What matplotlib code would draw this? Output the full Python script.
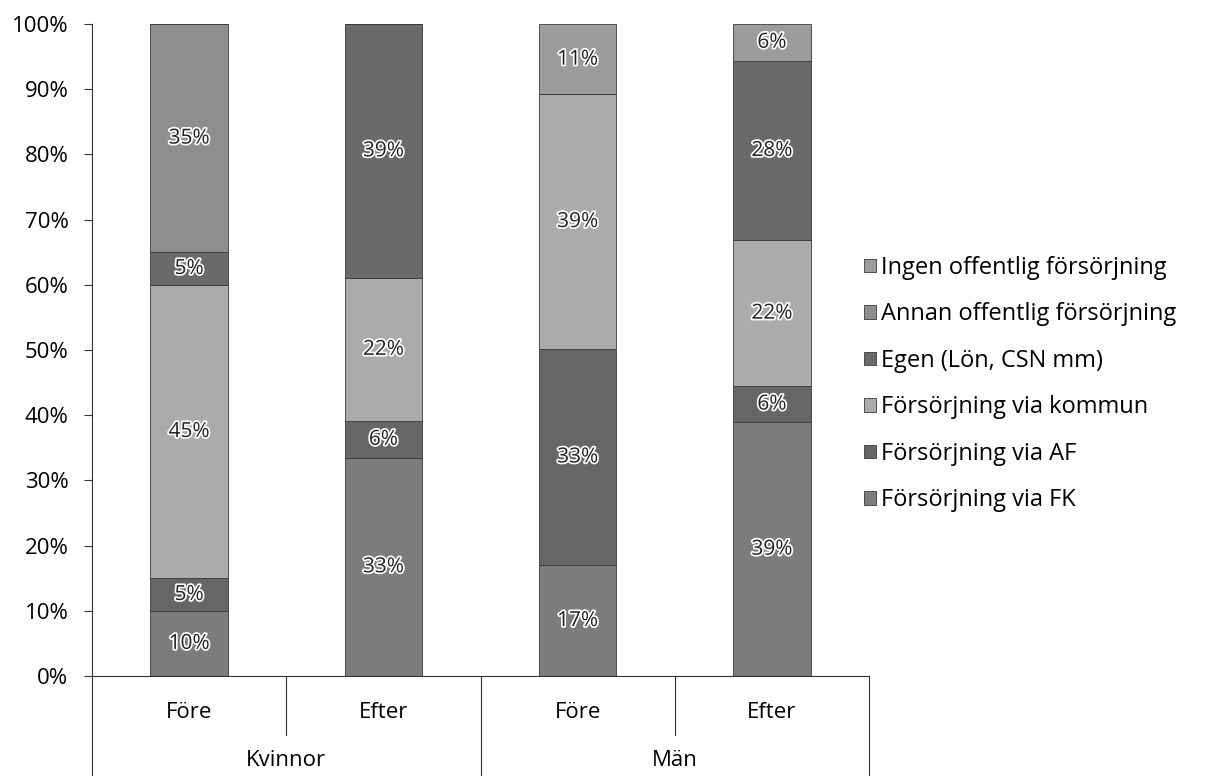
import numpy as np
import matplotlib
matplotlib.use("Agg")
import matplotlib.pyplot as plt
import matplotlib.patheffects as pe

plt.rcParams['font.family'] = ['Open Sans', 'DejaVu Sans']

# Data (percent, bottom to top)
groups = ["Kvinnor", "Män"]
periods = ["Före", "Efter"]
series = ["Försörjning via FK", "Försörjning via AF", "Försörjning via kommun",
          "Egen (Lön, CSN mm)", "Annan offentlig försörjning", "Ingen offentlig försörjning"]

fk = [10, 33.5, 17, 38.9]
af = [5, 5.6, 33.2, 5.6]
kommun = [45, 22, 39, 22.3]
egen = [5, 38.9, 0, 27.6]
annan = [35, 0, 0, 0]
ingen = [0, 0, 10.8, 5.6]

labels_fk = ["10%", "33%", "17%", "39%"]
labels_af = ["5%", "6%", "33%", "6%"]
labels_kommun = ["45%", "22%", "39%", "22%"]
labels_egen = ["5%", "39%", "", "28%"]
labels_annan = ["35%", "", "", ""]
labels_ingen = ["", "", "11%", "6%"]

colors = ["#7c7c7c", "#666666", "#ababab", "#6a6a6a", "#8e8e8e", "#9c9c9c"]

values = [fk, af, kommun, egen, annan, ingen]
texts = [labels_fk, labels_af, labels_kommun, labels_egen, labels_annan, labels_ingen]

fig = plt.figure(figsize=(12.09, 7.76), dpi=100)
ax = fig.add_axes([92 / 1209, 100 / 776, 777 / 1209, 652 / 776])

x = np.arange(4)
bottom = np.zeros(4)
for vals, lab, col, txt in zip(values, series, colors, texts):
    ax.bar(x, vals, width=0.4, bottom=bottom, color=col, label=lab,
           edgecolor="#3a3a3a", linewidth=0.6)
    for i in range(4):
        if txt[i]:
            t = ax.text(x[i], bottom[i] + vals[i] / 2, txt[i], ha="center", va="center",
                        fontsize=15, color="#222222")
            t.set_path_effects([pe.withStroke(linewidth=2.5, foreground="white")])
    bottom += np.array(vals)

ax.set_xlim(-0.5, 3.5)
ax.set_ylim(0, 100)
ax.set_yticks(np.arange(0, 101, 10))
ax.set_yticklabels([f"{v}%" for v in range(0, 101, 10)], fontsize=16)
ax.tick_params(axis="y", length=6, width=0.8, color="#333333", pad=11)
ax.set_xticks([])

for s in ["top", "right"]:
    ax.spines[s].set_visible(False)
ax.spines["bottom"].set_color("#333333")
ax.spines["left"].set_color("#333333")
ax.spines["left"].set_linewidth(0.8)

# Two-level category axis
for i, p in enumerate(periods * 2):
    ax.text(x[i], -5.6, p, ha="center", va="center", fontsize=16, clip_on=False)
for j, g in enumerate(groups):
    ax.text(0.5 + 2 * j, -12.9, g, ha="center", va="center", fontsize=16, clip_on=False)

for xv in [-0.5, 1.5, 3.5]:
    ax.plot([xv, xv], [0, -15.4], color="#333333", linewidth=0.8, clip_on=False)
for xv in [0.5, 2.5]:
    ax.plot([xv, xv], [0, -9], color="#333333", linewidth=0.8, clip_on=False)

# Legend, reversed order
handles, labs = ax.get_legend_handles_labels()
fig.legend(handles[::-1], labs[::-1], loc="center left", bbox_to_anchor=(0.715, 0.505),
           frameon=False, fontsize=17, handlelength=0.5, handleheight=0.5,
           handletextpad=0.2, labelspacing=0.95, borderpad=0, borderaxespad=0)

fig.savefig("out.png", dpi=100)
